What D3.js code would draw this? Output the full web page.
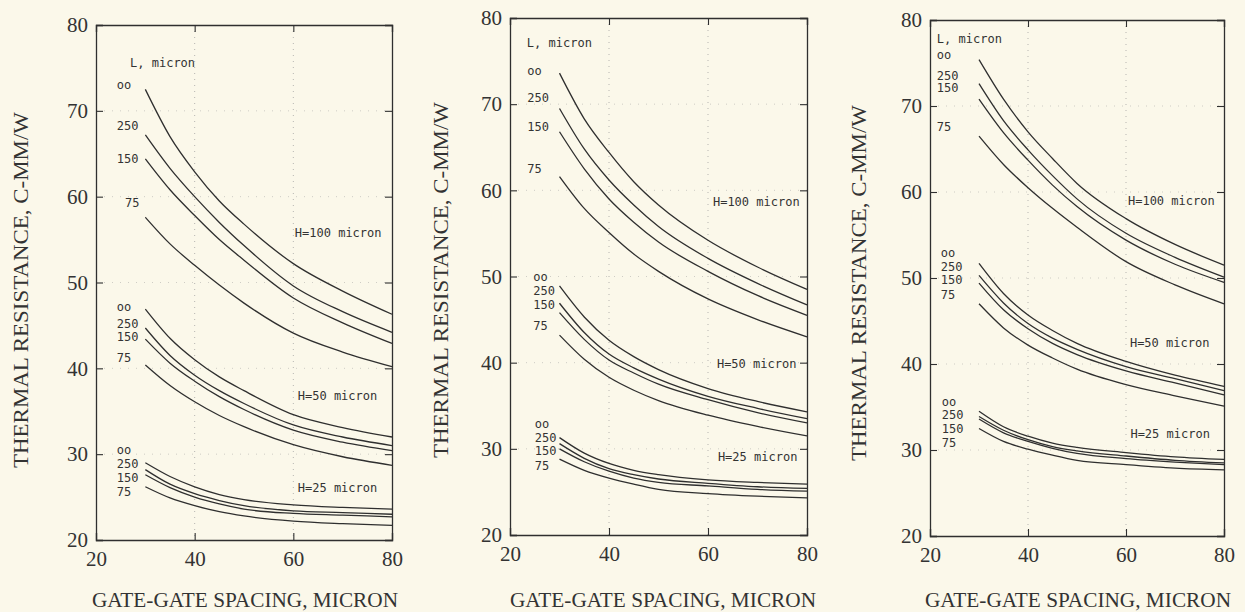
<!DOCTYPE html>
<html>
<head>
<meta charset="utf-8">
<script src="https://cdn.jsdelivr.net/npm/d3@7"></script>
<style>
  html, body { margin: 0; padding: 0; background: #fbf8ea; }
  svg { display: block; }
</style>
</head>
<body>
<svg id="chart" width="1245" height="612"></svg>
<script>
// ---------------- DATA ----------------
const gateSpacing = [30, 35, 40, 45, 50, 60, 70, 80];
const lLabels = ["oo", "250", "150", "75"];
const hLabels = ["H=100 micron", "H=50 micron", "H=25 micron"];
const xTickValues = [20, 40, 60, 80];
const yTickValues = [20, 30, 40, 50, 60, 70, 80];
const xTitle = "GATE-GATE SPACING, MICRON";
const yTitle = "THERMAL RESISTANCE, C-MM/W";
const lTitle = "L, micron";

// Left panel (series order: oo, 250, 150, 75)
const leftH100 = [
  [72.5, 67.0, 62.9, 59.5, 56.8, 52.2, 49.0, 46.3],
  [67.2, 63.3, 60.0, 57.0, 54.3, 49.6, 46.6, 44.2],
  [64.4, 60.8, 57.8, 55.0, 52.6, 48.2, 45.3, 42.9],
  [57.6, 54.5, 52.0, 49.7, 47.6, 44.1, 41.9, 40.2]
];
const leftH50 = [
  [46.9, 43.5, 41.0, 39.0, 37.4, 34.6, 33.1, 32.0],
  [44.7, 41.5, 39.2, 37.4, 35.9, 33.4, 32.0, 31.0],
  [43.4, 40.6, 38.5, 36.7, 35.2, 32.8, 31.4, 30.4],
  [40.4, 38.0, 36.1, 34.5, 33.2, 31.1, 29.7, 28.7]
];
const leftH25 = [
  [29.0, 27.4, 26.2, 25.3, 24.7, 24.1, 23.8, 23.6],
  [28.2, 26.5, 25.4, 24.6, 24.0, 23.4, 23.2, 23.0],
  [27.6, 26.1, 25.0, 24.2, 23.6, 23.1, 22.9, 22.7],
  [26.2, 24.9, 24.0, 23.3, 22.8, 22.2, 21.9, 21.7]
];
// Middle panel
const midH100 = [
  [73.6, 68.3, 64.4, 61.0, 58.3, 54.2, 51.1, 48.5],
  [69.5, 64.8, 61.2, 58.3, 55.8, 52.1, 49.2, 46.7],
  [66.8, 62.5, 59.0, 56.3, 54.0, 50.6, 47.8, 45.5],
  [61.6, 57.9, 55.1, 52.6, 50.6, 47.4, 45.0, 43.0]
];
const midH50 = [
  [48.9, 45.3, 42.6, 40.7, 39.2, 37.0, 35.5, 34.3],
  [46.9, 43.5, 41.0, 39.4, 38.1, 36.1, 34.7, 33.5],
  [45.8, 42.7, 40.3, 38.8, 37.5, 35.7, 34.2, 33.0],
  [43.2, 40.4, 38.3, 36.8, 35.6, 33.9, 32.6, 31.5]
];
const midH25 = [
  [31.3, 29.5, 28.3, 27.5, 27.0, 26.4, 26.1, 25.9],
  [30.6, 28.9, 27.7, 27.0, 26.5, 26.0, 25.6, 25.4],
  [30.0, 28.5, 27.4, 26.6, 26.1, 25.7, 25.3, 25.1],
  [28.8, 27.5, 26.6, 25.9, 25.3, 24.8, 24.5, 24.3]
];
// Right panel
const rightH100 = [
  [75.4, 70.8, 67.0, 63.9, 61.0, 56.9, 53.9, 51.5],
  [72.6, 68.3, 64.9, 61.9, 59.2, 55.2, 52.4, 50.1],
  [70.8, 66.9, 63.7, 60.8, 58.3, 54.4, 51.6, 49.5],
  [66.5, 63.2, 60.5, 58.1, 55.9, 51.9, 49.2, 47.0]
];
const rightH50 = [
  [51.7, 48.2, 45.7, 43.9, 42.4, 40.3, 38.7, 37.4],
  [50.3, 47.1, 44.7, 43.0, 41.7, 39.7, 38.3, 36.9],
  [49.4, 46.3, 44.1, 42.4, 41.1, 39.2, 37.8, 36.4],
  [47.0, 44.2, 42.2, 40.7, 39.4, 37.6, 36.3, 35.1]
];
const rightH25 = [
  [34.5, 32.7, 31.6, 30.8, 30.3, 29.7, 29.2, 28.9],
  [33.9, 32.3, 31.2, 30.4, 29.9, 29.3, 28.8, 28.5],
  [33.6, 32.0, 31.0, 30.2, 29.6, 29.0, 28.6, 28.3],
  [32.5, 31.0, 30.1, 29.4, 28.8, 28.3, 27.9, 27.7]
];

// ---------------- LAYOUT (pixels / annotation anchors in data units) ----------------
const panels = [
  { left: 96, right: 392, top: 25, bottom: 540, yTitleX: 20, yTitleY: 290, xTitleX: 245,
    groups: [leftH100, leftH50, leftH25],
    lTitlePos: [26.9, 75.6],
    lLabelX: [[24.2, 24.2, 24.2, 25.9], [24.2, 24.2, 24.2, 24.2], [24.2, 24.2, 24.2, 24.2]],
    lLabelY: [[73.0, 68.2, 64.4, 59.3], [47.2, 45.2, 43.6, 41.2], [30.5, 28.8, 27.2, 25.6]],
    hPos: [[60.3, 55.8], [60.9, 36.8], [60.9, 26.1]] },
  { left: 510, right: 807, top: 18, bottom: 535, yTitleX: 440, yTitleY: 280, xTitleX: 663,
    groups: [midH100, midH50, midH25],
    lTitlePos: [23.4, 77.1],
    lLabelX: [[23.5, 23.5, 23.5, 23.5], [24.7, 24.7, 24.7, 24.7], [25.0, 25.0, 25.0, 25.0]],
    lLabelY: [[73.9, 70.7, 67.4, 62.5], [50.0, 48.3, 46.7, 44.3], [32.9, 31.3, 29.7, 28.0]],
    hPos: [[61.0, 58.7], [61.8, 39.8], [62.0, 29.1]] },
  { left: 930, right: 1224, top: 20, bottom: 536, yTitleX: 858, yTitleY: 283, xTitleX: 1078,
    groups: [rightH100, rightH50, rightH25],
    lTitlePos: [21.4, 77.8],
    lLabelX: [[21.4, 21.4, 21.4, 21.4], [22.2, 22.2, 22.2, 22.2], [22.4, 22.4, 22.4, 22.4]],
    lLabelY: [[75.9, 73.5, 72.1, 67.6], [52.9, 51.3, 49.8, 48.0], [35.6, 34.1, 32.5, 30.8]],
    hPos: [[60.4, 58.9], [60.8, 42.4], [60.9, 31.9]] }
];

const ink = "#2f2f2f";
const svg = d3.select("#chart");
svg.append("rect").attr("width", 1245).attr("height", 612).attr("fill", "#fbf8ea");

panels.forEach(p => {
  const x = d3.scaleLinear().domain([20, 80]).range([p.left, p.right]);
  const y = d3.scaleLinear().domain([20, 80]).range([p.bottom, p.top]);
  const g = svg.append("g");

  // faint dotted grid
  g.selectAll(".gx").data(xTickValues.slice(1, -1)).join("line")
    .attr("x1", d => x(d)).attr("x2", d => x(d))
    .attr("y1", p.top).attr("y2", p.bottom)
    .attr("stroke", "#9a9a9a").attr("stroke-width", 1)
    .attr("stroke-dasharray", "1,5").attr("opacity", 0.7);
  g.selectAll(".gy").data(yTickValues.slice(1, -1)).join("line")
    .attr("x1", p.left).attr("x2", p.right)
    .attr("y1", d => y(d)).attr("y2", d => y(d))
    .attr("stroke", "#9a9a9a").attr("stroke-width", 1)
    .attr("stroke-dasharray", "1,7").attr("opacity", 0.45);

  // axes (inward ticks on all four sides)
  const tickFont = "Liberation Serif, serif";
  const ax = g.append("g").attr("transform", `translate(0,${p.bottom})`)
    .call(d3.axisBottom(x).tickValues(xTickValues).tickSize(-7).tickPadding(11).tickFormat(d3.format("d")));
  const ay = g.append("g").attr("transform", `translate(${p.left},0)`)
    .call(d3.axisLeft(y).tickValues(yTickValues).tickSize(-7).tickPadding(8).tickFormat(d3.format("d")));
  const axT = g.append("g").attr("transform", `translate(0,${p.top})`)
    .call(d3.axisTop(x).tickValues(xTickValues).tickSize(-7).tickFormat(""));
  const ayR = g.append("g").attr("transform", `translate(${p.right},0)`)
    .call(d3.axisRight(y).tickValues(yTickValues).tickSize(-7).tickFormat(""));
  [ax, ay, axT, ayR].forEach(a => {
    a.select(".domain").attr("stroke", ink).attr("stroke-width", 1.3);
    a.selectAll(".tick line").attr("stroke", ink).attr("stroke-width", 1.1);
    a.selectAll("text").attr("font-family", tickFont).attr("font-size", 21).attr("fill", "#333");
  });

  // curves
  const line = d3.line().x((d, i) => x(gateSpacing[i])).y(d => y(d)).curve(d3.curveMonotoneX);
  p.groups.forEach((grp, gi) => {
    g.selectAll(null).data(grp).join("path")
      .attr("d", d => line(d))
      .attr("fill", "none").attr("stroke", ink).attr("stroke-width", 1.3);

    // L labels
    g.selectAll(null).data(lLabels).join("text")
      .attr("x", (d, i) => x(p.lLabelX[gi][i]))
      .attr("y", (d, i) => y(p.lLabelY[gi][i]))
      .attr("dominant-baseline", "central")
      .attr("font-family", "DejaVu Sans Mono, monospace").attr("font-size", 12)
      .attr("fill", "#333").text(d => d);

    // H label
    g.append("text")
      .attr("x", x(p.hPos[gi][0])).attr("y", y(p.hPos[gi][1]))
      .attr("dominant-baseline", "central")
      .attr("font-family", "DejaVu Sans Mono, monospace").attr("font-size", 12)
      .attr("fill", "#333").text(hLabels[gi]);
  });

  g.append("text")
    .attr("x", x(p.lTitlePos[0])).attr("y", y(p.lTitlePos[1]))
    .attr("dominant-baseline", "central")
    .attr("font-family", "DejaVu Sans Mono, monospace").attr("font-size", 12)
    .attr("fill", "#333").text(lTitle);

  // axis titles
  g.append("text")
    .attr("x", p.xTitleX).attr("y", 600)
    .attr("text-anchor", "middle").attr("dominant-baseline", "central")
    .attr("font-family", "Liberation Serif, serif").attr("font-size", 20)
    .attr("textLength", 306).attr("lengthAdjust", "spacingAndGlyphs")
    .attr("fill", "#333").text(xTitle);

  g.append("text")
    .attr("transform", `translate(${p.yTitleX},${p.yTitleY}) rotate(-90)`)
    .attr("text-anchor", "middle").attr("dominant-baseline", "central")
    .attr("font-family", "Liberation Serif, serif").attr("font-size", 22)
    .attr("textLength", 356).attr("lengthAdjust", "spacingAndGlyphs")
    .attr("fill", "#333").text(yTitle);
});
</script>
</body>
</html>
